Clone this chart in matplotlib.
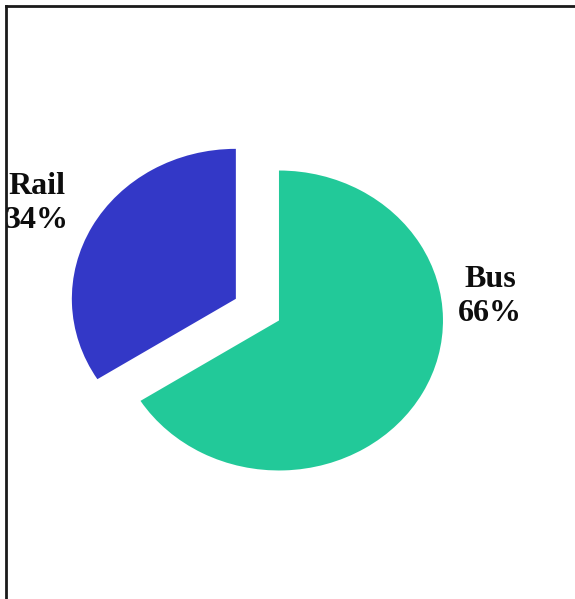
import matplotlib.pyplot as plt
from matplotlib.lines import Line2D
from matplotlib.patches import Rectangle

modes = ["Bus", "Rail"]
shares = [66, 34]
colors = ["#22C999", "#3338C7"]
explode = [0, 0.3]
label_pos = [(1.287, 0.16), (-1.476, 0.78)]

fig = plt.figure(figsize=(5.75, 5.99), dpi=100)
ax = fig.add_axes([0, 0, 1, 1])

ax.pie(shares, colors=colors, explode=explode, startangle=90,
       counterclock=False, wedgeprops=dict(linewidth=0))
ax.set_aspect("auto")
ax.set_xlim(-1.701, 1.805)
ax.set_ylim(-1.857, 2.137)
ax.axis("off")

for name, pct, (x, y) in zip(modes, shares, label_pos):
    ax.text(x, y, f"{name}\n{pct}%", ha="center", va="center",
            family="Liberation Serif", fontweight="bold", fontsize=23,
            linespacing=1.2, color="#0d0d0d")

# white margin outside the frame, then the frame itself (top and left only)
fig.add_artist(Rectangle((0, 0), 6 / 575, 1, transform=fig.transFigure,
                         facecolor="white", edgecolor="none", zorder=5))
fig.add_artist(Rectangle((0, 1 - 6 / 599), 1, 6 / 599, transform=fig.transFigure,
                         facecolor="white", edgecolor="none", zorder=5))
fig.add_artist(Line2D([6 / 575, 1], [1 - 6 / 599, 1 - 6 / 599],
                      transform=fig.transFigure, color="#1a1a1a", lw=2, zorder=6))
fig.add_artist(Line2D([6 / 575, 6 / 575], [0, 1 - 6 / 599],
                      transform=fig.transFigure, color="#1a1a1a", lw=2, zorder=6))

fig.savefig("out.png", dpi=100)
